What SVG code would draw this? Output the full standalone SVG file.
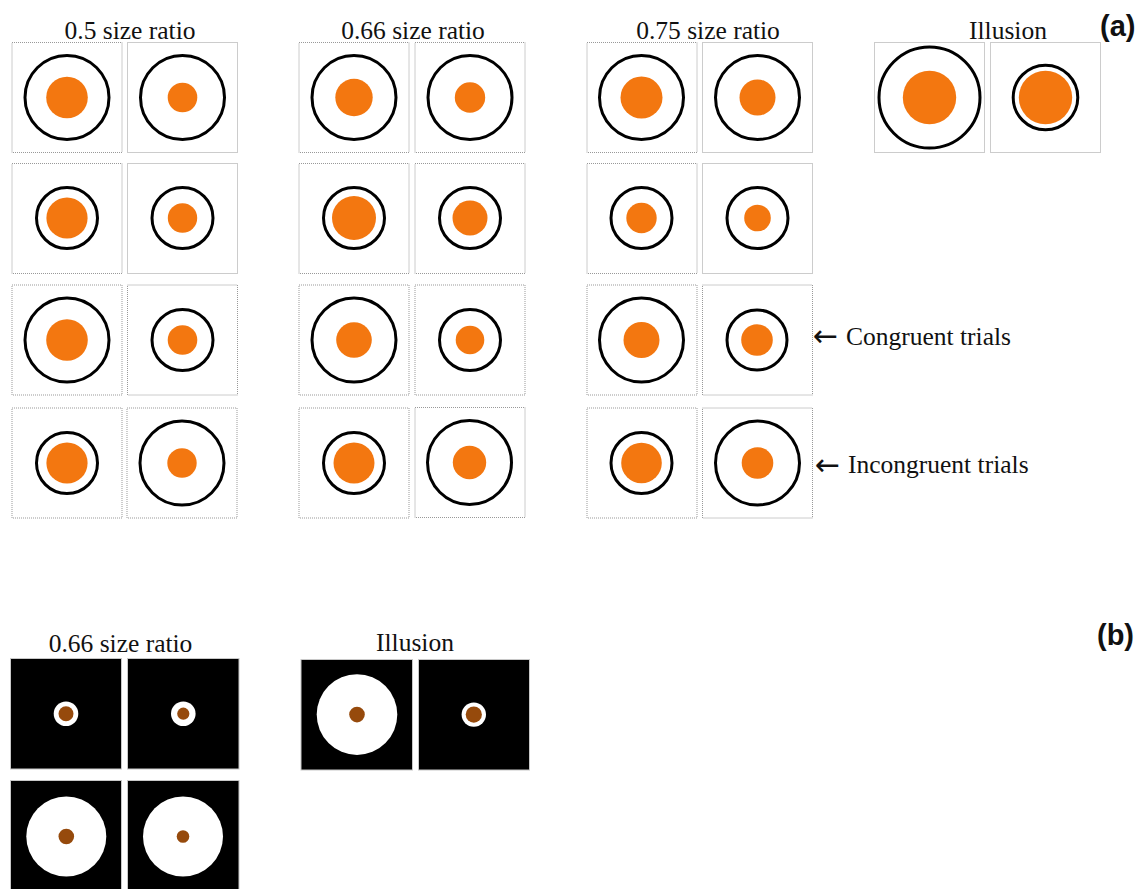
<svg xmlns="http://www.w3.org/2000/svg" width="1144" height="889" viewBox="0 0 1144 889">
<defs>
<style>
.t{font-family:"Liberation Serif","Times New Roman",serif;font-size:25.5px;fill:#111}
.arr{font-family:"DejaVu Sans",sans-serif;font-size:30px}
.lab{font-family:"Liberation Sans",Arial,sans-serif;font-weight:bold;font-size:29px;fill:#111}
.box{fill:#fff;stroke:#999;stroke-width:1;stroke-dasharray:1 1}
.ring{fill:none;stroke:#000;stroke-width:3}
.or{fill:#F37710}
.bbox{fill:#000;stroke:#c8c8c8;stroke-width:1}
.wd{fill:#fff}
.br{fill:#964A0C}
</style>
</defs>
<rect width="1144" height="889" fill="#fff"/>

<g id="labels">
<text class="t" x="130" y="39" text-anchor="middle">0.5 size ratio</text>
<text class="t" x="413" y="39" text-anchor="middle">0.66 size ratio</text>
<text class="t" x="708" y="39" text-anchor="middle">0.75 size ratio</text>
<text class="t" x="1008" y="39" text-anchor="middle">Illusion</text>
<text class="lab" x="1100" y="36">(a)</text>
<text class="t" y="344.5"><tspan class="arr" x="813" y="346">←</tspan><tspan x="846" y="344.5">Congruent trials</tspan></text>
<text class="t" y="473"><tspan class="arr" x="815" y="474.5">←</tspan><tspan x="848" y="473">Incongruent trials</tspan></text>
<text class="t" x="120.5" y="651.5" text-anchor="middle">0.66 size ratio</text>
<text class="t" x="415" y="651" text-anchor="middle">Illusion</text>
<text class="lab" x="1097" y="645">(b)</text>
</g>

<!-- 0.5 size ratio -->
<g id="r05-1a"><rect class="box" x="12" y="42.5" width="110" height="110"/><circle class="ring" cx="67" cy="97.5" r="42"/><circle class="or" cx="67" cy="97.5" r="20.8"/></g>
<g id="r05-1b"><rect class="box" x="127.5" y="42.5" width="110" height="110"/><circle class="ring" cx="182.5" cy="97.5" r="42"/><circle class="or" cx="182.5" cy="97.5" r="14.8"/></g>
<g id="r05-2a"><rect class="box" x="12" y="163.5" width="110" height="110"/><circle class="ring" cx="67" cy="218" r="30.5"/><circle class="or" cx="67" cy="218" r="20.6"/></g>
<g id="r05-2b"><rect class="box" x="127.5" y="163.5" width="110" height="110"/><circle class="ring" cx="182.5" cy="218" r="30.5"/><circle class="or" cx="182.5" cy="218" r="14.7"/></g>
<g id="r05-3a"><rect class="box" x="12" y="285" width="110" height="110"/><circle class="ring" cx="67" cy="340" r="42"/><circle class="or" cx="67" cy="340" r="20.8"/></g>
<g id="r05-3b"><rect class="box" x="127.5" y="285" width="110" height="110"/><circle class="ring" cx="182.5" cy="340" r="30.5"/><circle class="or" cx="182.5" cy="340" r="14.8"/></g>
<g id="r05-4a"><rect class="box" x="12" y="408" width="110" height="110"/><circle class="ring" cx="67" cy="463" r="30.5"/><circle class="or" cx="67" cy="463" r="20.6"/></g>
<g id="r05-4b"><rect class="box" x="127" y="408" width="110" height="110"/><circle class="ring" cx="182" cy="463" r="42"/><circle class="or" cx="182" cy="463" r="14.7"/></g>

<!-- 0.66 size ratio -->
<g id="r066-1a"><rect class="box" x="299" y="42.5" width="110" height="110"/><circle class="ring" cx="354" cy="97.5" r="42"/><circle class="or" cx="354" cy="97.5" r="18.7"/></g>
<g id="r066-1b"><rect class="box" x="415" y="42.5" width="110" height="110"/><circle class="ring" cx="470" cy="97.5" r="42"/><circle class="or" cx="470" cy="97.5" r="15.2"/></g>
<g id="r066-2a"><rect class="box" x="299" y="163.5" width="110" height="110"/><circle class="ring" cx="354" cy="218" r="30.5"/><circle class="or" cx="354" cy="218" r="22"/></g>
<g id="r066-2b"><rect class="box" x="415" y="163.5" width="110" height="110"/><circle class="ring" cx="470" cy="218" r="30.5"/><circle class="or" cx="470" cy="218" r="17.5"/></g>
<g id="r066-3a"><rect class="box" x="299" y="285" width="110" height="110"/><circle class="ring" cx="354" cy="340" r="42"/><circle class="or" cx="354" cy="340" r="17.8"/></g>
<g id="r066-3b"><rect class="box" x="415" y="285" width="110" height="110"/><circle class="ring" cx="470" cy="340" r="30.5"/><circle class="or" cx="470" cy="340" r="14.3"/></g>
<g id="r066-4a"><rect class="box" x="299" y="408" width="110" height="110"/><circle class="ring" cx="354" cy="463" r="30.5"/><circle class="or" cx="354" cy="463" r="20.5"/></g>
<g id="r066-4b"><rect class="box" x="415" y="407.5" width="110" height="110"/><circle class="ring" cx="469.5" cy="462.5" r="42"/><circle class="or" cx="469.5" cy="462.5" r="16.7"/></g>

<!-- 0.75 size ratio -->
<g id="r075-1a"><rect class="box" x="587" y="42.5" width="110" height="110"/><circle class="ring" cx="641.5" cy="97.5" r="42"/><circle class="or" cx="641.5" cy="97.5" r="21"/></g>
<g id="r075-1b"><rect class="box" x="702.5" y="42.5" width="110" height="110"/><circle class="ring" cx="757.5" cy="97.5" r="42"/><circle class="or" cx="757.5" cy="97.5" r="18"/></g>
<g id="r075-2a"><rect class="box" x="587" y="163.5" width="110" height="110"/><circle class="ring" cx="641.5" cy="218" r="30.5"/><circle class="or" cx="641.5" cy="218" r="15.2"/></g>
<g id="r075-2b"><rect class="box" x="702.5" y="163.5" width="110" height="110"/><circle class="ring" cx="757.5" cy="218" r="30.5"/><circle class="or" cx="757.5" cy="218" r="13.3"/></g>
<g id="r075-3a"><rect class="box" x="587" y="285" width="110" height="110"/><circle class="ring" cx="641.5" cy="340" r="42"/><circle class="or" cx="641.5" cy="340" r="18"/></g>
<g id="r075-3b"><rect class="box" x="702.5" y="285" width="110" height="110"/><circle class="ring" cx="757" cy="340" r="30"/><circle class="or" cx="757" cy="340" r="15.8"/></g>
<g id="r075-4a"><rect class="box" x="587" y="408" width="110" height="110"/><circle class="ring" cx="641.5" cy="463" r="30.5"/><circle class="or" cx="641.5" cy="463" r="20.3"/></g>
<g id="r075-4b"><rect class="box" x="702.5" y="408" width="110" height="110"/><circle class="ring" cx="757.5" cy="463" r="42"/><circle class="or" cx="757.5" cy="463" r="15.8"/></g>

<!-- Illusion (a) -->
<g id="ill-a1"><rect class="box" x="874.5" y="42.5" width="110" height="110"/><circle class="ring" cx="929.5" cy="97.5" r="50.5"/><circle class="or" cx="929.5" cy="97.5" r="26.7"/></g>
<g id="ill-a2"><rect class="box" x="990.5" y="42.5" width="110" height="110"/><circle class="ring" cx="1045.5" cy="97.5" r="32.3"/><circle class="or" cx="1045.5" cy="97.5" r="26.7"/></g>

<!-- (b) 0.66 size ratio -->
<g id="b066-1a"><rect class="bbox" x="10.5" y="658.5" width="111" height="110.5"/><circle class="wd" cx="66" cy="713.7" r="12.3"/><circle class="br" cx="66" cy="713.7" r="7.5"/></g>
<g id="b066-1b"><rect class="bbox" x="127.5" y="658.5" width="111.5" height="110.5"/><circle class="wd" cx="183.3" cy="713.7" r="12.3"/><circle class="br" cx="183.3" cy="713.7" r="6.1"/></g>
<g id="b066-2a"><rect class="bbox" x="10.5" y="780.5" width="111" height="112"/><circle class="wd" cx="66.3" cy="836.5" r="40"/><circle class="br" cx="66.3" cy="836.5" r="7.8"/></g>
<g id="b066-2b"><rect class="bbox" x="127.5" y="780.5" width="111.5" height="112"/><circle class="wd" cx="183" cy="836.5" r="40"/><circle class="br" cx="183" cy="836.5" r="6.3"/></g>

<!-- (b) Illusion -->
<g id="b-ill-1"><rect class="bbox" x="301" y="659.5" width="111.5" height="110.5"/><circle class="wd" cx="357" cy="714.6" r="40.3"/><circle class="br" cx="357" cy="714.6" r="7.8"/></g>
<g id="b-ill-2"><rect class="bbox" x="418.5" y="659.5" width="111" height="110.5"/><circle class="wd" cx="473.8" cy="714.6" r="12.2"/><circle class="br" cx="473.8" cy="714.6" r="8.1"/></g>

<g id="connectors"></g>
</svg>
